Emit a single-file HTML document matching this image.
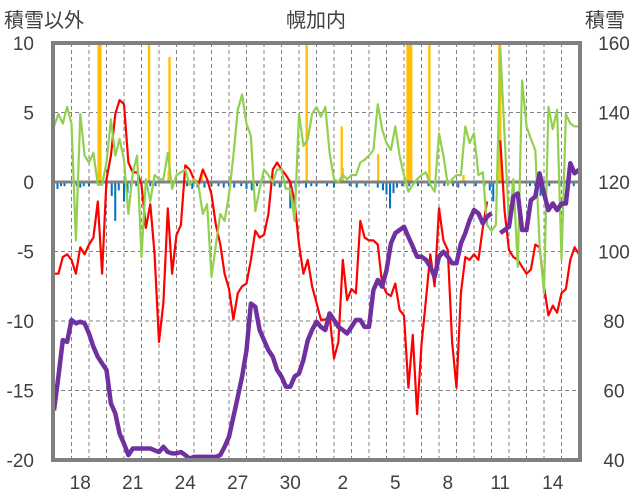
<!DOCTYPE html>
<html><head><meta charset="utf-8"><style>
body{margin:0;background:#fff}
svg{display:block;font-family:"Liberation Sans","Noto Sans CJK JP",sans-serif}
</style></head><body>
<svg id="c" width="636" height="501" viewBox="0 0 636 501">
<text x="4" y="27" font-size="20" fill="#404040">積雪以外</text>
<text x="316" y="27" font-size="20" fill="#404040" text-anchor="middle">幌加内</text>
<text x="585" y="27" font-size="20" fill="#404040">積雪</text>
<g id="g"></g>
</svg>
<script>
const dayLabels=["17","18","19","20","21","22","23","24","25","26","27","28","29","30","31","1","2","3","4","5","6","7","8","9","10","11","12","13","14","15"];
const leftTicks=[10,5,0,-5,-10,-15,-20];
const rightTicks=[160,140,120,100,80,60,40];
const red=[-6.6,-6.6,-5.4,-5.2,-5.6,-6.6,-4.7,-5.2,-4.5,-4.0,-1.4,-6.6,0.2,1.9,4.9,5.9,5.6,1.4,0.7,0.7,-0.2,-3.3,-1.6,-5.2,-11.5,-8.7,-1.9,-6.6,-3.8,-3.1,1.2,0.9,0.2,-0.2,0.9,0.2,-0.9,-3.1,-4.5,-6.6,-7.7,-9.9,-8.0,-7.5,-7.3,-5.6,-3.5,-4.0,-3.8,-2.3,0.9,1.4,0.9,0.5,0,-1.4,-4.5,-6.6,-5.6,-7.5,-8.7,-9.9,-9.9,-9.6,-12.7,-11.5,-5.6,-8.5,-7.7,-8.0,-2.8,-4.0,-4.2,-4.2,-4.5,-7.3,-8.0,-8.2,-7.3,-9.2,-9.6,-14.8,-11.0,-16.7,-11.7,-8.5,-5.2,-7.5,-1.9,-4.2,-4.9,-11.5,-14.8,-8.0,-5.4,-5.6,-5.2,-5.6,-3.3,-1.4,null,null,3.0,-2.1,-4.9,-5.4,-5.6,-6.1,-6.6,-6.3,-4.5,-4.7,-7.5,-9.6,-8.9,-9.4,-8.0,-7.7,-5.6,-4.7,-5.2];
const green=[4.0,4.9,4.2,5.4,4.2,-4.2,4.9,1.9,1.4,2.1,-0.2,-0.2,1.4,4.5,1.9,3.1,1.6,-2.3,0.7,1.9,-5.4,0.2,-1.4,0.5,0.2,0.2,2.1,-0.5,0.5,0.7,0.9,-0.2,0.2,-0.2,-2.3,-1.6,-6.8,-4.5,-2.3,-2.8,-0.9,1.9,5.2,6.3,4.2,3.3,-2.1,-0.5,0.9,0.5,0,0.9,0.9,-0.5,-0.5,-2.8,4.9,2.6,3.1,4.9,5.4,4.7,5.4,2.1,0.2,0,0.5,0.2,0.5,0.5,1.4,1.6,1.9,2.3,5.6,3.8,2.8,2.3,4.0,1.9,0.5,-0.7,-0.2,0.2,0.5,0.7,-0.2,-0.7,3.5,1.9,-0.2,0.2,0.5,0.5,4.0,2.8,3.5,0.5,0.7,-3.1,-3.5,-3.1,9.6,3.3,-3.1,0.2,-6.1,7.3,4.0,3.1,2.3,-4.5,-8.0,5.4,3.8,5.2,-5.6,4.9,4.2,4.0,4.0];
const snow=[54.3,64,74.5,74,80.3,79.3,79.8,79.3,76.4,72.6,69.7,67.8,65.9,56.3,53.4,47.6,44.7,41.4,43.3,43.3,43.3,43.3,43.3,42.8,42.3,43.8,42.3,41.9,41.9,42.3,41.4,40.4,40.9,40.9,40.9,40.9,40.9,40.9,41.4,43.8,46.7,52.4,58.2,64,71.6,85,84.1,77.4,74.5,71.6,69.7,65.9,64,61.1,61.1,64,64.9,68.8,74.5,77.4,79.8,78.3,77.4,82.2,80.3,78.3,77.4,76.4,78.3,80.3,80.3,78.3,78.3,88.9,91.8,89.9,94.6,102.3,105.3,106.2,107.1,104.2,101.4,98.5,98.5,97.6,95.6,92.7,98.5,99.9,98.5,96.6,96.6,102.3,105.3,109,111.9,111,108.1,110,111,null,105.3,106.2,107.1,115.8,116.7,106.2,106.2,114.8,115.8,122.5,116.7,111.9,113.8,111.9,113.8,113.8,125.4,122.5,123.5];
const orangeT=[2.55,2.6,2.65,5.43,6.55,6.6,8.44,14.44,16.44,16.5,18.53,20.2,20.27,20.34,20.41,21.45,23.4,25.45,25.5];
const orangeV=[10,10,10,10,0.8,9,0.7,10,4,1,2,10,10,10,10,10,0.5,10,10];
const blueT=[0.2,0.4,0.6,1.3,1.5,1.7,2.0,3.0,3.3,3.5,3.7,4.0,4.2,4.4,4.7,5.0,5.5,5.8,7.6,7.9,8.2,8.6,9.0,9.4,9.7,10.0,10.3,10.7,11.0,11.3,11.6,12.6,12.9,13.2,13.5,13.8,14.4,14.7,15.0,15.6,16.0,16.9,17.3,17.8,18.5,18.8,19.0,19.2,19.4,19.6,19.9,20.3,20.8,21.4,21.8,22.3,22.8,23.1,23.5,24.1,24.6,24.9,25.1,26.2,26.6,27.2,27.5,27.8,28.3,28.9,29.3,29.7];
const blueV=[-0.5,-0.3,-0.3,-0.3,-0.4,-0.3,-0.3,-0.4,-1.0,-2.8,-0.6,-1.4,-0.8,-0.5,-0.3,-0.3,-0.3,-0.3,-0.3,-0.5,-0.4,-0.4,-0.3,-0.3,-0.4,-0.3,-0.4,-0.3,-0.5,-0.6,-0.3,-0.3,-0.4,-0.4,-1.9,-0.5,-0.4,-0.3,-0.3,-0.3,-0.4,-0.3,-0.4,-0.3,-0.4,-0.6,-0.9,-1.9,-0.8,-0.4,-0.3,-0.3,-0.3,-0.3,-0.4,-0.3,-0.3,-0.4,-0.3,-0.3,-0.3,-0.6,-1.4,-0.3,-0.3,-0.3,-0.3,-1.0,-0.3,-0.3,-0.3,-0.3];

const NS="http://www.w3.org/2000/svg";
const g=document.getElementById('g');
const X0=54,X1=579,Y0=43,Y1=460,DAYS=30;
const xT=t=>X0+t*(X1-X0)/DAYS;
const yL=v=>Y0+(10-v)*(Y1-Y0)/30;
const yR=v=>Y0+(160-v)*(Y1-Y0)/120;
function mk(tag,at){const e=document.createElementNS(NS,tag);for(const k in at)e.setAttribute(k,at[k]);g.appendChild(e);return e;}
for(const v of [5,-5,-10,-15]){const e=mk('line',{x1:X0,x2:X1,y1:yL(v),y2:yL(v),stroke:'#808080','stroke-width':1,'stroke-dasharray':'4,3'});

}
for(let i=1;i<DAYS;i++){const e=mk('line',{x1:xT(i),x2:xT(i),y1:Y0,y2:Y1,stroke:'#808080','stroke-width':1,'stroke-dasharray':'4,3'});

}
leftTicks.forEach(v=>{const e=mk('text',{x:34,y:yL(v)+7,'font-size':19,fill:'#404040','text-anchor':'end'});e.textContent=v;

});
rightTicks.forEach(v=>{const e=mk('text',{x:614,y:yR(v)+7,'font-size':19,fill:'#404040','text-anchor':'middle'});e.textContent=v;

});
dayLabels.forEach((d,i)=>{if(i%3!==1)return;const e=mk('text',{x:xT(i+0.5),y:489,'font-size':19,fill:'#404040','text-anchor':'middle'});e.textContent=d;

});
blueT.forEach((t,i)=>{const e=mk('rect',{x:xT(t)-1,y:yL(0),width:2,height:yL(blueV[i])-yL(0),fill:'#0070c0'});

});
orangeT.forEach((t,i)=>{const e=mk('rect',{x:xT(t)-1.2,y:yL(orangeV[i]),width:2.4,height:yL(0)-yL(orangeV[i]),fill:'#ffc000'});

});
function line(arr,yf,col,w,name){let d='',pen=false;arr.forEach((v,i)=>{if(v===null){pen=false;return;}d+=(pen?'L':'M')+xT(i/4).toFixed(1)+' '+yf(v).toFixed(1);pen=true;});
const e=mk('path',{d:d,fill:'none',stroke:col,'stroke-width':w,'stroke-linejoin':'round'});

}
const z=mk('line',{x1:X0,x2:X1,y1:yL(0),y2:yL(0),stroke:'#808080','stroke-width':3});


line(red,yL,'#ff0000',2.2,'temperature-line');
line(green,yL,'#92d050',2.2,'green-series-line');
line(snow,yR,'#7030a0',4.5,'snow-depth-line');
const f=mk('rect',{x:X0-1,y:Y0,width:X1-X0+2,height:Y1-Y0,fill:'none',stroke:'#808080','stroke-width':4});


</script>
</body></html>
